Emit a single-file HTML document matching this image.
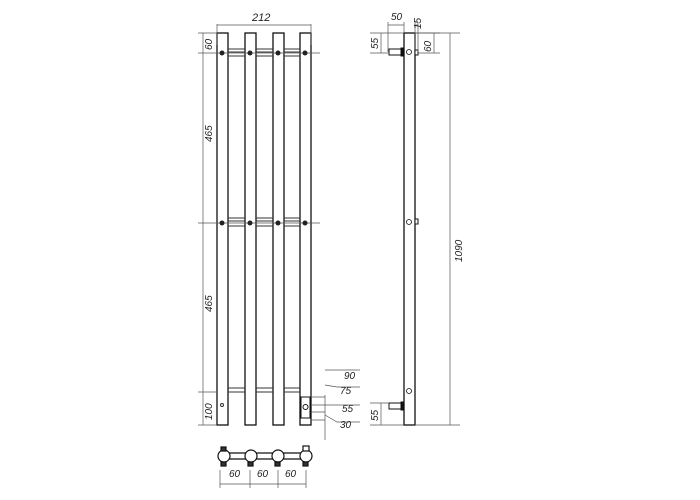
<!DOCTYPE html>
<html><head><style>body{margin:0;background:#fff}svg{display:block}text{font-family:"Liberation Sans",sans-serif;font-style:italic;fill:#222}</style></head><body>
<svg width="700" height="500" viewBox="0 0 700 500" xmlns="http://www.w3.org/2000/svg">
<g fill="none" stroke="#111" stroke-width="1.3">
<rect x="217" y="33" width="11" height="392"/>
<rect x="245" y="33" width="11" height="392"/>
<rect x="273" y="33" width="11" height="392"/>
<rect x="300" y="33" width="11" height="392"/>
</g>
<g stroke="#333" stroke-width="1">
<path d="M228 49H245M228 52H245M228 56H245M256 49H273M256 52H273M256 56H273M284 49H300M284 52H300M284 56H300"/>
<path d="M228 218H245M228 221H245M228 226H245M256 218H273M256 221H273M256 226H273M284 218H300M284 221H300M284 226H300"/>
<path d="M228 388H245M228 392H245M256 388H273M256 392H273M284 388H300M284 392H300"/>
</g>
<g stroke="#555" stroke-width="0.7" fill="none">
<path d="M217 24V45M311 24V45M217 25H311"/>
<path d="M198 33H217M198 53H320M198 223H320M198 392H217M198 425H217"/>
<path d="M203 33V425"/>
<path d="M311 397H325M311 405H325M311 412H325M311 420H325M325 440V395"/>
<path d="M325 370L335 370H360M325 385L337 387H360M325 405L337 405H360M325 415L337 422H360"/>
<path d="M220 470V488M250 470V488M278 470V488M306 470V488M220 484H306"/>
</g>
<g fill="#222">
<circle cx="222" cy="53" r="2.5"/><circle cx="250" cy="53" r="2.5"/><circle cx="278" cy="53" r="2.5"/><circle cx="305" cy="53" r="2.5"/>
<circle cx="222" cy="223" r="2.5"/><circle cx="250" cy="223" r="2.5"/><circle cx="278" cy="223" r="2.5"/><circle cx="305" cy="223" r="2.5"/>
</g>
<rect x="301" y="397" width="9" height="21" fill="#fff" stroke="#111"/>
<circle cx="305.5" cy="407" r="2.5" fill="none" stroke="#111"/>
<circle cx="222" cy="405" r="1.5" fill="none" stroke="#333"/>
<text x="252" y="21" font-size="11">212</text>
<g font-size="10">
<text transform="translate(212,50) rotate(-90)">60</text>
<text transform="translate(212,142) rotate(-90)">465</text>
<text transform="translate(212,312) rotate(-90)">465</text>
<text transform="translate(212,420) rotate(-90)">100</text>
<text x="344" y="379">90</text><text x="340" y="394">75</text><text x="342" y="412">55</text><text x="340" y="428">30</text>
<text x="229" y="477">60</text><text x="257" y="477">60</text><text x="285" y="477">60</text>
</g>
<g stroke="#111" stroke-width="1.2" fill="#fff">
<path d="M224 453H306M224 459H306" fill="none"/>
<circle cx="224" cy="456" r="6"/><circle cx="251" cy="456" r="6"/><circle cx="278" cy="456" r="6"/><circle cx="306" cy="456" r="6"/>
<rect x="221" y="447" width="5" height="4" fill="#333"/><rect x="303" y="446" width="6" height="5"/>
<rect x="221" y="462" width="5" height="4" fill="#333"/><rect x="248" y="462" width="5" height="4" fill="#333"/><rect x="275" y="462" width="5" height="4" fill="#333"/><rect x="303" y="462" width="5" height="4" fill="#333"/>
</g>
<rect x="404" y="33" width="11" height="392" fill="none" stroke="#111" stroke-width="1.3"/>
<g stroke="#111" fill="#fff">
<rect x="389" y="49" width="13" height="6"/><rect x="401" y="48" width="3" height="8" fill="#111"/>
<rect x="415" y="50" width="3" height="5"/>
<rect x="389" y="403" width="13" height="6"/><rect x="401" y="402" width="3" height="8" fill="#111"/>
<rect x="415" y="219" width="3" height="5"/>
</g>
<g stroke="#111" fill="none" stroke-width="0.8">
<circle cx="409" cy="52" r="2.5"/><circle cx="409" cy="222" r="2.5"/><circle cx="409" cy="391" r="2.5"/>
</g>
<g stroke="#555" stroke-width="0.7" fill="none">
<path d="M388 22V52M404 22V33M388 25H404M415 22V50M418 22V52M415 25H418"/>
<path d="M370 33H404M370 53H389M381 33V53M415 33H440M418 53H440M434 33V53"/>
<path d="M415 33H460M415 425H460M450 33V425"/>
<path d="M370 403H389M370 425H404M381 403V425"/>
</g>
<g font-size="10">
<text x="391" y="20">50</text><text transform="translate(421,29) rotate(-90)">15</text>
<text transform="translate(378,49) rotate(-90)">55</text>
<text transform="translate(431,52) rotate(-90)">60</text>
<text transform="translate(462,262) rotate(-90)">1090</text>
<text transform="translate(378,421) rotate(-90)">55</text>
</g>
</svg>
</body></html>
